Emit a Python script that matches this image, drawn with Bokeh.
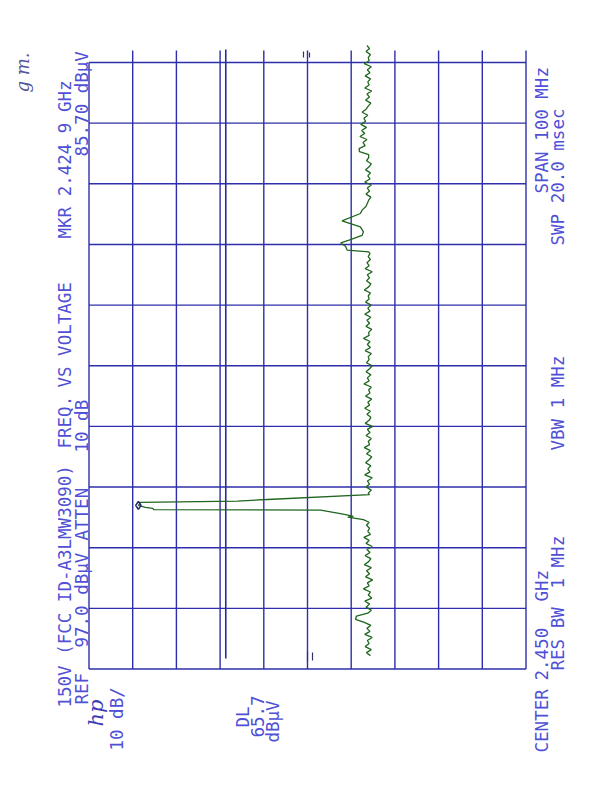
import math
from bokeh.plotting import figure
from bokeh.models import Range1d
from bokeh.core.properties import value
from bokeh.embed import file_html
from bokeh.resources import INLINE

# ---------------- data ----------------
# amplitude divisions (dBuV), 10 dB/div from REF 97.0
amp_ticks = [97, 87, 77, 67, 57, 47, 37, 27, 17, 7, -3]
# frequency divisions (MHz), center 2450, span 100
freq_ticks = [2400, 2410, 2420, 2430, 2440, 2450, 2460, 2470, 2480, 2490, 2500]
display_line = 65.7
marker_freq = 2426.98
marker_amp = 85.7

seg1_f = [2402.2, 2402.7, 2403.2, 2403.7, 2404.2, 2404.7, 2405.2, 2405.7, 2406.2, 2406.7,
          2407.2, 2407.7, 2408.2, 2408.7, 2409.2, 2409.7, 2410.2, 2410.7, 2411.2, 2411.7,
          2412.2, 2412.7, 2413.2, 2413.7, 2414.2, 2414.7, 2415.2, 2415.7, 2416.2, 2416.7,
          2417.2, 2417.7, 2418.2, 2418.7, 2419.2, 2419.7, 2420.2, 2420.7, 2421.2, 2421.7,
          2422.2, 2422.7, 2423.2]
seg1_a = [32.6, 33.5, 32.4, 33.8, 32.9, 33.3, 32.2, 33.9, 32.7, 33.4,
          32.5, 34.0, 36.0, 35.8, 33.2, 32.4, 33.6, 32.8, 33.9, 32.3,
          33.1, 32.6, 34.2, 32.9, 33.3, 32.1, 33.7, 32.8, 33.5, 32.4,
          34.0, 33.0, 32.5, 33.8, 32.7, 33.4, 32.2, 33.6, 32.9, 34.1,
          32.6, 33.2, 32.8]

peak_f = [2423.7, 2424.2, 2424.62, 2425.05, 2425.17, 2425.4, 2425.71, 2426.2, 2426.27,
          2426.49, 2426.65, 2426.98, 2427.48, 2427.69, 2427.95, 2428.75]
peak_a = [33.5, 32.9, 34.2, 37.8, 36.5, 38.0, 40.1, 44.0, 82.2,
          82.4, 84.1, 85.7, 85.2, 63.0, 56.2, 32.8]

seg3_f = [2429.0, 2429.5, 2430.0, 2430.5, 2431.0, 2431.5, 2432.0, 2432.5, 2433.0, 2433.5,
          2434.0, 2434.5, 2435.0, 2435.5, 2436.0, 2436.5, 2437.0, 2437.5, 2438.0, 2438.5,
          2439.0, 2439.5, 2440.0, 2440.5, 2441.0, 2441.5, 2442.0, 2442.5, 2443.0, 2443.5,
          2444.0, 2444.5, 2445.0, 2445.5, 2446.0, 2446.5, 2447.0, 2447.5, 2448.0, 2448.5,
          2449.0, 2449.5, 2450.0, 2450.5, 2451.0, 2451.5, 2452.0, 2452.5, 2453.0, 2453.5,
          2454.0, 2454.5, 2455.0, 2455.5, 2456.0, 2456.5, 2457.0, 2457.5, 2458.0, 2458.5,
          2459.0, 2459.5, 2460.0, 2460.5, 2461.0, 2461.5, 2462.0, 2462.5, 2463.0, 2463.5,
          2464.0, 2464.5, 2465.0, 2465.5, 2466.0, 2466.5, 2467.0, 2467.5, 2468.0, 2468.5]
seg3_a = [33.1, 32.4, 33.6, 32.8, 33.3, 32.2, 33.9, 32.7, 33.2, 32.5,
          33.7, 32.9, 32.3, 33.5, 32.6, 34.0, 32.8, 33.1, 32.4, 33.6,
          32.7, 33.3, 32.1, 33.8, 32.9, 32.5, 33.4, 32.6, 33.9, 32.8,
          33.2, 32.3, 33.7, 32.7, 33.0, 32.4, 34.1, 32.9, 33.3, 32.5,
          33.6, 32.8, 32.2, 33.5, 32.9, 33.1, 32.4, 33.8, 32.6, 33.3,
          32.7, 34.2, 32.9, 33.0, 32.3, 33.6, 32.8, 33.4, 32.5, 33.9,
          32.7, 33.2, 32.4, 33.7, 32.9, 33.1, 32.6, 34.0, 33.0, 32.5,
          33.5, 32.8, 33.3, 32.2, 33.8, 32.9, 33.4, 32.6, 33.1, 32.7]

bump_f = [2468.78, 2469.06, 2469.7, 2470.26, 2470.7, 2471.5, 2472.08, 2472.9, 2473.9,
          2475.1, 2475.66, 2476.3, 2476.8]
bump_a = [33.0, 37.9, 38.3, 39.4, 37.5, 34.5, 34.2, 34.9, 39.1,
          34.9, 34.5, 33.6, 33.3]

seg5_f = [2477.3, 2477.8, 2478.3, 2478.8, 2479.3, 2479.8, 2480.3, 2480.8, 2481.3, 2481.8,
          2482.3, 2482.8, 2483.3, 2483.8, 2484.3, 2484.8, 2485.3, 2485.8, 2486.3, 2486.8,
          2487.3, 2487.8, 2488.3, 2488.8, 2489.3, 2489.8, 2490.3, 2490.8, 2491.3, 2491.8,
          2492.3, 2492.8, 2493.3, 2493.8, 2494.3, 2494.8, 2495.3, 2495.8, 2496.3, 2496.8,
          2497.3, 2497.8, 2498.3, 2498.8, 2499.3, 2499.8, 2500.3, 2500.8, 2501.3, 2501.8,
          2502.3, 2502.8]
seg5_a = [33.0, 32.5, 33.6, 32.8, 33.3, 32.4, 33.9, 32.7, 33.2, 32.6,
          33.7, 32.9, 32.4, 33.5, 33.0, 33.0, 35.1, 35.2, 33.8, 34.3,
          33.4, 35.0, 33.9, 34.6, 33.5, 34.8, 33.7, 34.1, 33.2, 34.5,
          33.6, 33.1, 32.5, 33.7, 32.8, 33.4, 32.3, 33.9, 32.9, 33.2,
          32.6, 33.8, 32.7, 33.3, 32.4, 34.0, 32.9, 33.1, 32.6, 33.6,
          32.8, 33.4]

trace_f = seg1_f + peak_f + seg3_f + bump_f + seg5_f
trace_a = seg1_a + peak_a + seg3_a + bump_a + seg5_a

# ---------------- layout helpers (screenshot pixels -> data) ----------------
W, H = 588, 780
LEFT_PX, RIGHT_PX = 88.5, 525.5      # REF line / bottom line of the graticule
TOP_PX, BOTTOM_PX = 62.0, 668.5      # 2500 MHz / 2400 MHz lines
PX_DB = (RIGHT_PX - LEFT_PX) / (amp_ticks[0] - amp_ticks[-1])
PX_MHZ = (BOTTOM_PX - TOP_PX) / (freq_ticks[-1] - freq_ticks[0])
X0 = amp_ticks[0] + LEFT_PX / PX_DB
X1 = amp_ticks[0] - (W - LEFT_PX) / PX_DB
Y1 = freq_ticks[-1] + TOP_PX / PX_MHZ
Y0 = freq_ticks[-1] - (H - TOP_PX) / PX_MHZ

def ax(px):
    return X0 - px / PX_DB

def fy(py):
    return Y1 - py / PX_MHZ

GRID = "#2e2eaa"
TEXT = "#5050d6"
TRACE = "#1f661f"

p = figure(width=W, height=H, output_backend="svg", toolbar_location=None,
           x_range=Range1d(X0, X1), y_range=Range1d(Y0, Y1),
           min_border=0, outline_line_color=None, background_fill_color="white",
           border_fill_color="white")
p.axis.visible = False
p.grid.visible = False

top_ext = fy(50)
# vertical (amplitude) divisions
vx = amp_ticks
vy0 = [freq_ticks[0]] * len(vx)
vy1 = [freq_ticks[-1] if a == amp_ticks[0] else top_ext for a in vx]
p.segment(x0=vx, y0=vy0, x1=vx, y1=vy1, line_color=GRID, line_width=1.4)
# horizontal (frequency) divisions
p.segment(x0=[amp_ticks[0]] * len(freq_ticks), y0=freq_ticks,
          x1=[amp_ticks[-1]] * len(freq_ticks), y1=freq_ticks,
          line_color=GRID, line_width=1.4)

# display line
p.segment(x0=[display_line], y0=[fy(658)], x1=[display_line], y1=[fy(49)],
          line_color="#2a2a9a", line_width=1.6)

# small marker ticks
p.segment(x0=[ax(303), ax(309), ax(307), ax(312)], y0=[fy(51), fy(52), fy(651), fy(652)],
          x1=[ax(303), ax(309), ax(307), ax(312)], y1=[fy(57), fy(57), fy(661), fy(660)],
          line_color="#333366", line_width=1.2)

# trace
p.line(trace_a, trace_f, line_color=TRACE, line_width=1.3)
p.scatter([marker_amp], [marker_freq], marker="diamond", size=8,
          fill_color=None, line_color="#23236b", line_width=1.5)

# ---------------- texts (rotated, read bottom to top) ----------------
labels = [
    (64, 707, "150V (FCC ID-A3LMW3090)"), (64, 448, "FREQ."), (64, 387, "VS VOLTAGE"),
    (64, 238, "MKR 2.424 9 GHz"),
    (81, 704, "REF"), (81, 647, "97.0 dBµV"), (81, 540, "ATTEN"), (81, 452, "10 dB"),
    (81, 156, "85.70 dBµV"),
    (116, 750, "10 dB/"),
    (242, 727, "DL"), (257, 737, "65.7"), (272, 742, "dBµV"),
    (541, 752, "CENTER"), (541, 680, "2.450"), (541, 601, "GHz"), (541, 193, "SPAN 100 MHz"),
    (557, 670, "RES BW"), (557, 588, "1 MHz"), (557, 450, "VBW 1 MHz"),
    (557, 245, "SWP 20.0 msec"),
]
p.text(x=[ax(l[0]) for l in labels], y=[fy(l[1]) for l in labels], text=[l[2] for l in labels],
       angle=math.pi / 2, text_align="left", text_baseline="middle",
       text_font=value("DejaVu Sans Mono"), text_font_size="17.5px", text_color=TEXT)

# hp logo and handwriting
p.text(x=[ax(95)], y=[fy(726)], text=["hp"], angle=math.pi / 2, text_align="left",
       text_baseline="middle", text_font=value("DejaVu Serif"), text_font_style="italic",
       text_font_size="21px", text_color="#3c3cb4")
p.text(x=[ax(22)], y=[fy(92)], text=["g m."], angle=math.pi / 2, text_align="left",
       text_baseline="middle", text_font=value("DejaVu Serif"), text_font_style="italic",
       text_font_size="18px", text_color="#55559a")

open("out.html", "w").write(file_html(p, INLINE))
